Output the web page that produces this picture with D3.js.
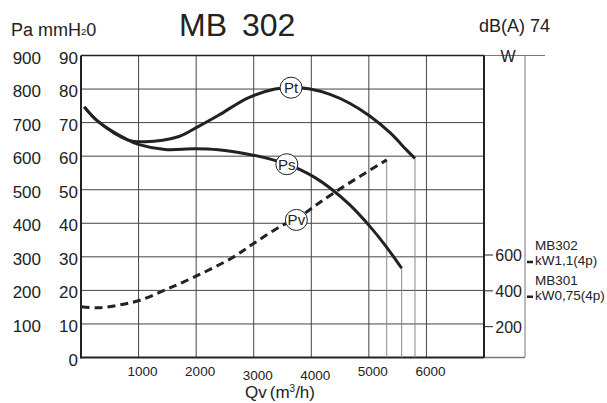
<!DOCTYPE html>
<html>
<head>
<meta charset="utf-8">
<script src="https://cdn.jsdelivr.net/npm/d3@7"></script>
<style>
  html, body { margin: 0; padding: 0; background: #fff; }
  svg { display: block; font-family: "Liberation Sans", Arial, sans-serif; }
</style>
</head>
<body>
<svg id="chart" width="607" height="403"></svg>
<script>
// curve readings (Qv in m3/h, pressure in Pa)
const qPt = [57, 300, 821, 1110, 1688, 2035, 2382, 2903, 3371, 3649, 3979, 4326, 4674, 5021, 5368, 5657, 5801];
const paPt = [747, 703, 648, 643, 658, 688, 721, 774, 800, 805, 800, 784, 757, 719, 670, 618, 593];

const qPs = [57, 300, 821, 994, 1458, 1978, 2382, 2903, 3337, 3575, 3805, 4066, 4326, 4674, 5021, 5281, 5570];
const paPs = [747, 703, 648, 635, 620, 622, 619, 606, 589, 576, 560, 536, 505, 454, 390, 335, 266];

const qPv = [10, 300, 647, 994, 1458, 2006, 2613, 3019, 3510, 3741, 3922, 4378, 5310];
const paPv = [151, 148, 156, 169, 201, 243, 296, 342, 395, 410, 434, 489, 589];

const curveNames = ["Pt", "Ps", "Pv"];
const labelQ = [3649, 3575, 3741];
const labelPa = [804, 576, 410];

const qTicks = [1000, 2000, 3000, 4000, 5000, 6000];
const paTicks = [100, 200, 300, 400, 500, 600, 700, 800, 900];
const mmTicks = [0, 10, 20, 30, 40, 50, 60, 70, 80, 90];
const wTicks = [200, 400, 600];

const motorW = [561, 367];
const motorLabels = [["MB302", "kW1,1(4p)"], ["MB301", "kW0,75(4p)"]];

// ------------------------------------------------------------------
const margin = { top: 55.5, left: 81, right: 484, bottom: 357.5 };
const panelRight = 525;
const ink = "#222";

const x = d3.scaleLinear().domain([0, 7000]).range([margin.left, margin.right]);
const y = d3.scaleLinear().domain([0, 900]).range([margin.bottom, margin.top]);
const yMm = d3.scaleLinear().domain([0, 90]).range([margin.bottom, margin.top]);
const yW = d3.scaleLinear().domain([0, 600]).range([362.5, 255]);

const svg = d3.select("#chart");

// grid
const grid = svg.append("g").attr("stroke", "#444").attr("stroke-width", 1);
grid.selectAll("line.h")
    .data(paTicks.slice(0, -1))
    .join("line")
    .attr("x1", margin.left).attr("x2", margin.right)
    .attr("y1", d => y(d)).attr("y2", d => y(d));
grid.selectAll("line.v")
    .data(qTicks)
    .join("line")
    .attr("x1", d => x(d)).attr("x2", d => x(d))
    .attr("y1", margin.top).attr("y2", margin.bottom);

// right power panel
svg.append("line")
    .attr("x1", margin.right).attr("x2", 545)
    .attr("y1", margin.top).attr("y2", margin.top)
    .attr("stroke", "#777").attr("stroke-width", 1);
svg.append("line")
    .attr("x1", margin.right).attr("x2", panelRight)
    .attr("y1", margin.bottom).attr("y2", margin.bottom)
    .attr("stroke", "#777").attr("stroke-width", 1.5);
svg.append("line")
    .attr("x1", panelRight).attr("x2", panelRight)
    .attr("y1", margin.top).attr("y2", margin.bottom)
    .attr("stroke", "#777").attr("stroke-width", 1);

// frame
svg.append("line")
    .attr("x1", margin.left).attr("x2", margin.right)
    .attr("y1", margin.top).attr("y2", margin.top)
    .attr("stroke", ink).attr("stroke-width", 1.5);
svg.append("line")
    .attr("x1", margin.right).attr("x2", margin.right)
    .attr("y1", margin.top).attr("y2", margin.bottom)
    .attr("stroke", ink).attr("stroke-width", 2);
svg.append("line")
    .attr("x1", margin.left).attr("x2", margin.left)
    .attr("y1", margin.top).attr("y2", margin.bottom + 1)
    .attr("stroke", ink).attr("stroke-width", 2);
svg.append("line")
    .attr("x1", margin.left).attr("x2", margin.right)
    .attr("y1", margin.bottom).attr("y2", margin.bottom)
    .attr("stroke", ink).attr("stroke-width", 2);

// drop lines from curve ends
const ends = [
    [qPt[qPt.length - 1], paPt[paPt.length - 1]],
    [qPs[qPs.length - 1], paPs[paPs.length - 1]],
    [qPv[qPv.length - 1], paPv[paPv.length - 1]]
];
svg.append("g")
    .attr("stroke", "#888").attr("stroke-width", 1)
    .selectAll("line")
    .data(ends)
    .join("line")
    .attr("x1", d => x(d[0])).attr("x2", d => x(d[0]))
    .attr("y1", d => y(d[1])).attr("y2", margin.bottom);

// curves
const line = d3.line()
    .x(d => x(d[0]))
    .y(d => y(d[1]))
    .curve(d3.curveCatmullRom.alpha(0.5));

const series = [
    { pts: d3.zip(qPt, paPt), dash: null },
    { pts: d3.zip(qPs, paPs), dash: null },
    { pts: d3.zip(qPv, paPv), dash: "8,5" }
];
svg.append("g")
    .attr("fill", "none")
    .attr("stroke", ink)
    .attr("stroke-width", 3)
    .selectAll("path")
    .data(series)
    .join("path")
    .attr("stroke-dasharray", d => d.dash)
    .attr("d", d => line(d.pts));

// curve labels
const lab = svg.append("g")
    .selectAll("g")
    .data(curveNames)
    .join("g")
    .attr("transform", (d, i) => `translate(${x(labelQ[i])},${y(labelPa[i])})`);
lab.append("ellipse")
    .attr("rx", 11).attr("ry", 10.5)
    .attr("fill", "#fff").attr("stroke", ink).attr("stroke-width", 1);
lab.append("text")
    .attr("text-anchor", "middle")
    .attr("y", 5.5)
    .attr("font-size", 15)
    .attr("fill", ink)
    .text(d => d);

// left axes labels
svg.append("g")
    .attr("font-size", 17).attr("fill", ink).attr("text-anchor", "end")
    .selectAll("text")
    .data(paTicks)
    .join("text")
    .attr("x", 41)
    .attr("y", d => y(d) + 8)
    .text(d => d);
svg.append("g")
    .attr("font-size", 17).attr("fill", ink).attr("text-anchor", "end")
    .selectAll("text")
    .data(mmTicks)
    .join("text")
    .attr("x", 78)
    .attr("y", d => yMm(d) + 8)
    .text(d => d);

// x tick labels
svg.append("g")
    .attr("font-size", 13.5).attr("fill", ink).attr("text-anchor", "middle")
    .selectAll("text")
    .data(qTicks)
    .join("text")
    .attr("x", d => x(d) + 4)
    .attr("y", d => (d === 3000 || d === 4000) ? 380 : 376)
    .text(d => d);

// right power axis
svg.append("g")
    .attr("stroke", ink).attr("stroke-width", 1)
    .selectAll("line")
    .data(wTicks)
    .join("line")
    .attr("x1", margin.right).attr("x2", margin.right + 9)
    .attr("y1", d => yW(d)).attr("y2", d => yW(d));
svg.append("g")
    .attr("font-size", 16).attr("fill", ink).attr("text-anchor", "end")
    .selectAll("text")
    .data(wTicks)
    .join("text")
    .attr("x", 522)
    .attr("y", d => yW(d) + 6)
    .text(d => d);
svg.append("text")
    .attr("x", 508).attr("y", 62)
    .attr("text-anchor", "middle")
    .attr("font-size", 16).attr("fill", ink)
    .text("W");

// motor markers
svg.append("g")
    .attr("stroke", ink).attr("stroke-width", 2.5)
    .selectAll("line")
    .data(motorW)
    .join("line")
    .attr("x1", 527).attr("x2", 533)
    .attr("y1", d => yW(d)).attr("y2", d => yW(d));
const ml = svg.append("g")
    .attr("font-size", 13.5).attr("fill", ink)
    .selectAll("text")
    .data(motorLabels)
    .join("text")
    .attr("x", 535)
    .attr("y", (d, i) => yW(motorW[i]) - 12);
ml.append("tspan").attr("x", 535).text(d => d[0]);
ml.append("tspan").attr("x", 535).attr("dy", 15.5).text(d => d[1]);

// titles
svg.append("text")
    .attr("x", 179).attr("y", 36)
    .attr("font-size", 32).attr("fill", ink)
    .attr("word-spacing", 6)
    .text("MB 302");
svg.append("text")
    .attr("x", 479).attr("y", 32)
    .attr("font-size", 18).attr("fill", ink)
    .text("dB(A) 74");

const unit = svg.append("text")
    .attr("x", 11).attr("y", 36)
    .attr("font-size", 18).attr("fill", ink);
unit.append("tspan").text("Pa mmH");
unit.append("tspan").attr("font-size", 9.5).attr("dy", -1).text("2");
unit.append("tspan").attr("dy", 1).text("0");

const qv = svg.append("text")
    .attr("x", 280).attr("y", 398)
    .attr("text-anchor", "middle")
    .attr("font-size", 17).attr("fill", ink);
qv.append("tspan").text("Qv");
qv.append("tspan").attr("dx", 3).text("(m");
qv.append("tspan").attr("font-size", 10).attr("dy", -6).text("3");
qv.append("tspan").attr("dy", 6).text("/h)");
</script>
</body>
</html>
